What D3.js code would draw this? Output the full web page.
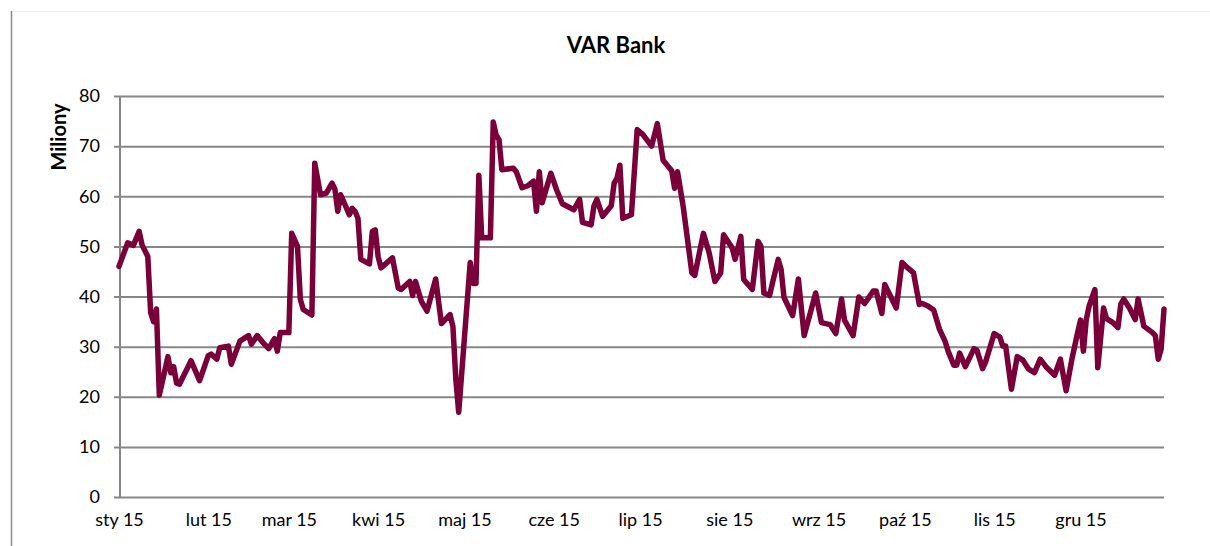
<!DOCTYPE html>
<html><head><meta charset="utf-8">
<script src="https://cdn.jsdelivr.net/npm/d3@7"></script>
<style>body{margin:0;background:#fff} svg{display:block}</style>
</head><body><svg id="c" width="1210" height="546"></svg>
<script>
const dates = [
"2015-01-01","2015-01-04","2015-01-06","2015-01-08","2015-01-09","2015-01-11","2015-01-12","2015-01-13","2015-01-14","2015-01-15",
"2015-01-18","2015-01-19","2015-01-20","2015-01-21","2015-01-22","2015-01-25","2015-01-26","2015-01-29","2015-02-01","2015-02-02",
"2015-02-04","2015-02-05","2015-02-08","2015-02-09","2015-02-12","2015-02-15","2015-02-16","2015-02-18","2015-02-20","2015-02-22",
"2015-02-24","2015-02-25","2015-02-26","2015-03-01","2015-03-02","2015-03-04","2015-03-05","2015-03-06","2015-03-09","2015-03-10",
"2015-03-12","2015-03-14","2015-03-16","2015-03-17","2015-03-18","2015-03-19","2015-03-20","2015-03-22","2015-03-23","2015-03-24",
"2015-03-25","2015-03-26","2015-03-29","2015-03-30","2015-03-31","2015-04-01","2015-04-02","2015-04-06","2015-04-08","2015-04-09",
"2015-04-12","2015-04-13","2015-04-14","2015-04-16","2015-04-18","2015-04-21","2015-04-23","2015-04-26","2015-04-27","2015-04-28",
"2015-04-29","2015-05-03","2015-05-04","2015-05-05","2015-05-06","2015-05-07","2015-05-10","2015-05-11","2015-05-12","2015-05-13",
"2015-05-14","2015-05-18","2015-05-19","2015-05-21","2015-05-23","2015-05-25","2015-05-26","2015-05-27","2015-05-28","2015-05-31",
"2015-06-02","2015-06-04","2015-06-08","2015-06-10","2015-06-11","2015-06-14","2015-06-15","2015-06-16","2015-06-18","2015-06-21",
"2015-06-22","2015-06-23","2015-06-24","2015-06-25","2015-06-28","2015-06-30","2015-07-02","2015-07-05","2015-07-07","2015-07-09",
"2015-07-12","2015-07-13","2015-07-14","2015-07-16","2015-07-19","2015-07-20","2015-07-23","2015-07-25","2015-07-27","2015-07-29",
"2015-07-30","2015-08-02","2015-08-03","2015-08-05","2015-08-06","2015-08-09","2015-08-11","2015-08-12","2015-08-13","2015-08-15",
"2015-08-16","2015-08-18","2015-08-19","2015-08-20","2015-08-23","2015-08-25","2015-08-27","2015-08-31","2015-09-02","2015-09-05",
"2015-09-07","2015-09-09","2015-09-10","2015-09-13","2015-09-15","2015-09-17","2015-09-18","2015-09-20","2015-09-21","2015-09-23",
"2015-09-24","2015-09-28","2015-09-30","2015-10-02","2015-10-04","2015-10-06","2015-10-07","2015-10-09","2015-10-11","2015-10-13",
"2015-10-15","2015-10-16","2015-10-18","2015-10-19","2015-10-20","2015-10-22","2015-10-25","2015-10-26","2015-10-28","2015-10-29",
"2015-11-01","2015-11-03","2015-11-04","2015-11-05","2015-11-07","2015-11-09","2015-11-11","2015-11-13","2015-11-15","2015-11-17",
"2015-11-19","2015-11-22","2015-11-24","2015-11-26","2015-11-28","2015-11-30","2015-12-01","2015-12-02","2015-12-03","2015-12-04",
"2015-12-06","2015-12-07","2015-12-09","2015-12-10","2015-12-12","2015-12-14","2015-12-15","2015-12-16","2015-12-18","2015-12-20",
"2015-12-21","2015-12-23","2015-12-26","2015-12-27","2015-12-28","2015-12-29","2015-12-30"
];
const values = [
46.0,50.7,50.2,53.0,50.3,48.0,36.8,35.0,37.5,20.3,
28.0,24.8,26.0,22.7,22.5,26.0,27.2,23.2,28.2,28.5,
27.5,29.8,30.1,26.5,31.1,32.2,30.5,32.2,30.8,29.6,
31.6,29.1,32.8,32.8,52.6,50.0,39.4,37.4,36.3,66.6,
60.3,60.6,62.6,61.4,57.0,60.3,59.0,56.3,57.6,57.0,
55.6,47.4,46.5,53.0,53.3,48.0,45.7,47.7,41.7,41.4,
43.0,40.2,43.0,39.1,37.1,43.5,34.6,36.4,34.0,23.5,
16.9,46.8,42.6,42.6,64.2,51.7,51.7,74.8,72.2,71.3,
65.3,65.6,64.9,61.7,62.1,63.0,57.0,64.9,58.7,64.6,
61.3,58.5,57.3,59.4,54.8,54.3,58.1,59.4,56.0,58.1,
62.6,63.6,66.2,55.6,56.3,73.3,72.3,70.0,74.5,67.2,
65.1,61.6,64.9,57.9,44.7,44.2,52.6,48.7,43.0,44.7,
52.3,49.7,47.4,52.0,43.4,41.4,51.0,50.0,40.7,40.2,
42.7,47.4,45.4,39.8,36.2,43.5,32.2,40.7,34.8,34.4,
32.6,39.5,35.3,32.2,39.9,38.6,39.4,41.1,41.1,36.6,
42.4,37.7,46.8,45.7,44.7,38.4,38.6,38.1,37.3,33.5,
31.0,29.1,26.3,26.3,28.7,26.0,29.6,29.3,25.6,26.9,
32.6,31.9,30.1,30.1,21.5,28.0,27.3,25.5,24.8,27.5,
26.0,24.3,27.5,21.2,27.5,32.8,35.3,29.1,35.4,38.1,
41.4,25.8,37.7,35.6,34.9,33.8,38.5,39.5,37.7,35.4,
39.5,34.1,32.8,32.2,27.5,29.5,37.5
];
const monthLabels = ["sty 15","lut 15","mar 15","kwi 15","maj 15","cze 15","lip 15","sie 15","wrz 15","paź 15","lis 15","gru 15"];
const yTicks = [0,10,20,30,40,50,60,70,80];
const chartTitle = "VAR Bank";
const yTitle = "Miliony";

const FONT = "Lato, 'Open Sans', sans-serif";
const svg = d3.select("#c");
const parse = d3.utcParse("%Y-%m-%d");
const data = dates.map((d,i)=>({date:parse(d), value:values[i]}));

const x = d3.scaleUtc().domain([parse("2015-01-01"), parse("2015-12-30")]).range([119,1164]);
const y = d3.scaleLinear().domain([0,80]).range([497,96]);

// outer frame
svg.append("line").attr("x1",11).attr("x2",1210).attr("y1",11.5).attr("y2",11.5).attr("stroke","#f0f0f0").attr("stroke-width",1);
svg.append("line").attr("x1",11.5).attr("x2",11.5).attr("y1",11).attr("y2",546).attr("stroke","#8c8c8c").attr("stroke-width",1.5);

// title
svg.append("text").attr("x",616).attr("y",53).attr("text-anchor","middle")
  .attr("font-family",FONT).attr("font-weight","bold").attr("font-size",22).attr("fill","#000").text(chartTitle);

// y axis title
svg.append("text").attr("transform","translate(66,137) rotate(-90)").attr("text-anchor","middle")
  .attr("font-family",FONT).attr("font-weight","bold").attr("font-size",20).attr("fill","#000").text(yTitle);

// y grid + labels
const gy = svg.append("g").attr("transform","translate(114,0)")
  .call(d3.axisLeft(y).tickValues(yTicks).tickSize(-(x.range()[1]-114)).tickPadding(14).tickFormat(d3.format("d")));
gy.select(".domain").remove();
gy.selectAll(".tick line").attr("stroke","#878787").attr("stroke-width",2);
gy.selectAll(".tick text").attr("font-family",FONT).attr("font-size",18).attr("fill","#000");

// y axis line
svg.append("line").attr("x1",x.range()[0]+1).attr("x2",x.range()[0]+1).attr("y1",y(80)).attr("y2",y(0)+1)
  .attr("stroke","#878787").attr("stroke-width",2);

// x axis labels
const months = d3.utcMonths(parse("2015-01-01"), parse("2016-01-01"));
const gx = svg.append("g").attr("transform",`translate(0,${y(0)})`)
  .call(d3.axisBottom(x).tickValues(months).tickSize(0).tickPadding(16).tickFormat((d,i)=>monthLabels[i]));
gx.select(".domain").remove();
gx.selectAll(".tick text").attr("font-family",FONT).attr("font-size",18).attr("fill","#000");

// line
const line = d3.line().x(d=>x(d.date)).y(d=>y(d.value));
svg.append("path").datum(data).attr("d",line).attr("fill","none")
  .attr("stroke","#7a0039").attr("stroke-width",5.5).attr("stroke-linejoin","round").attr("stroke-linecap","round");
</script>
</body></html>
